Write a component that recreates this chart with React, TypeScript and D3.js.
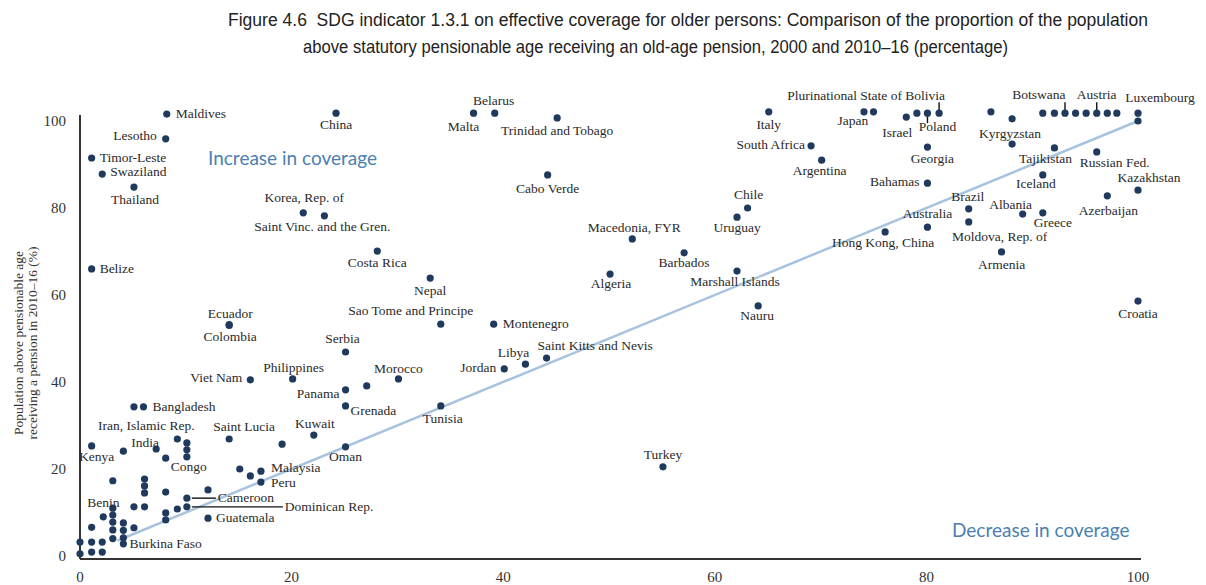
import React from "react";
import * as d3 from "d3";

// Country names ("" = point drawn without a label)
const countries: string[] = [
  "Maldives", "Lesotho", "Timor-Leste", "Swaziland", "Thailand", "Belize",
  "China", "Malta", "Belarus", "Trinidad and Tobago", "Cabo Verde",
  "Korea, Rep. of", "Saint Vinc. and the Gren.", "Costa Rica", "Nepal",
  "Ecuador", "Colombia", "Sao Tome and Principe", "Montenegro", "Serbia",
  "Viet Nam", "Philippines", "Morocco", "", "Panama", "Grenada", "Tunisia",
  "Jordan", "Libya", "Saint Kitts and Nevis",
  "", "Bangladesh", "Iran, Islamic Rep.", "Saint Lucia", "Kuwait", "", "Oman",
  "Kenya", "India", "", "", "", "", "Congo",
  "Malaysia", "Peru", "", "", "Turkey",
  "", "", "", "", "", "", "Cameroon", "Dominican Rep.", "", "", "", "Guatemala",
  "", "", "Benin", "", "", "", "", "", "", "", "", "", "", "Burkina Faso",
  "", "", "", "", "", "",
  "Algeria", "Macedonia, FYR", "Barbados", "Marshall Islands", "Nauru", "Chile",
  "Uruguay", "Italy", "South Africa", "Argentina", "Japan", "", "Israel", "",
  "Poland", "Plurinational State of Bolivia", "Georgia", "Bahamas", "",
  "Kyrgyzstan", "", "Tajikistan", "Russian Fed.", "Iceland", "Kazakhstan",
  "Azerbaijan", "Albania", "Greece", "Brazil", "Moldova, Rep. of", "Australia",
  "Hong Kong, China", "Armenia", "Croatia",
  "", "", "Botswana", "", "", "Austria", "", "", "Luxembourg", "",
];

// Coverage around 2000 (%)
const coverage2000: number[] = [
  8.2, 8.1, 1.1, 2.1, 5.1, 1.1,
  24.2, 37.2, 39.2, 45.1, 44.2,
  21.1, 23.1, 28.1, 33.1,
  14.1, 14.1, 34.1, 39.1, 25.1,
  16.1, 20.1, 30.1, 27.1, 25.1, 25.1, 34.1,
  40.1, 42.1, 44.1,
  5.1, 6.0, 9.2, 14.1, 22.1, 19.1, 25.1,
  1.1, 7.2, 4.1, 8.1, 10.1, 10.1, 10.1,
  17.1, 17.1, 16.1, 15.1, 55.1,
  3.1, 6.1, 6.1, 6.1, 8.1, 12.1, 10.1, 10.1, 9.2, 8.1, 8.1, 12.1,
  5.1, 6.1, 2.2, 3.1, 3.1, 3.1, 3.1, 3.1, 1.1, 4.1, 4.1, 4.1, 5.1, 4.1,
  0, 1.1, 2.1, 0, 1.1, 2.1,
  50.1, 52.2, 57.1, 62.1, 64.1, 63.1,
  62.1, 65.1, 69.1, 70.1, 74.1, 75.0, 78.1, 79.1,
  80.1, 81.2, 80.1, 80.1, 86.1,
  88.1, 88.1, 92.1, 96.1, 91.0, 100,
  97.1, 89.1, 91.0, 84.0, 84.0, 80.1,
  76.1, 87.1, 100,
  91.0, 92.1, 93.1, 94.1, 95.1, 96.1, 97.1, 98.0, 100, 100,
];

// Coverage in 2010–16 (%)
const coverage2016: number[] = [
  101.6, 95.9, 91.5, 87.8, 84.8, 66.0,
  101.8, 101.8, 101.8, 100.7, 87.6,
  78.9, 78.2, 70.1, 63.9,
  53.2, 53.0, 53.3, 53.3, 46.9,
  40.5, 40.7, 40.7, 39.1, 38.2, 34.5, 34.5,
  43.0, 44.1, 45.5,
  34.3, 34.3, 26.9, 26.9, 27.8, 25.7, 25.1,
  25.3, 24.6, 24.1, 22.5, 26.0, 24.4, 22.8,
  19.5, 17.0, 18.4, 20.0, 20.5,
  17.3, 17.7, 16.1, 14.5, 14.7, 15.2, 13.3, 11.3, 10.8, 9.9, 8.3, 8.7,
  11.3, 11.3, 9.0, 11.0, 9.4, 7.8, 6.0, 4.0, 6.6, 7.6, 5.9, 4.2, 6.5, 2.8,
  3.2, 3.2, 3.2, 0.5, 0.9, 0.9,
  64.8, 72.9, 69.7, 65.5, 57.5, 80.0,
  77.9, 102.1, 94.3, 91.0, 102.1, 102.1, 100.9, 101.8,
  101.8, 101.8, 94.0, 85.7, 102.1,
  100.5, 94.7, 93.8, 92.9, 87.6, 84.1,
  82.8, 78.6, 78.9, 79.8, 76.8, 75.6,
  74.5, 69.9, 58.6,
  101.8, 101.8, 101.8, 101.8, 101.8, 101.8, 101.8, 101.8, 101.8, 100.0,
];

const xTicks: number[] = [0, 20, 40, 60, 80, 100];
const yTicks: number[] = [0, 20, 40, 60, 80, 100];

const titleLines: string[] = [
  "Figure 4.6\u00a0\u00a0SDG indicator 1.3.1 on effective coverage for older persons: Comparison of the proportion of the population",
  "above statutory pensionable age receiving an old-age pension, 2000 and 2010–16 (percentage)",
];
const yAxisLines: string[] = [
  "Population above pensionable age",
  "receiving a pension in 2010–16 (%)",
];

type Anchor = "start" | "middle" | "end";
// Label placement relative to each dot: [text-anchor, dx, dy]
const labelPlacement: Record<string, [Anchor, number, number]> = {
  "Maldives": ["start", 9, 4],
  "Lesotho": ["end", -9, 1],
  "Timor-Leste": ["start", 8, 4],
  "Swaziland": ["start", 8, 2],
  "Thailand": ["middle", 1, 17],
  "Belize": ["start", 8, 4],
  "China": ["middle", 0, 16],
  "Malta": ["middle", -10, 18],
  "Belarus": ["middle", -1, -8],
  "Trinidad and Tobago": ["middle", 0, 17],
  "Cabo Verde": ["middle", 0, 18],
  "Korea, Rep. of": ["middle", 1, -11],
  "Saint Vinc. and the Gren.": ["middle", -2, 15],
  "Costa Rica": ["middle", 0, 16],
  "Nepal": ["middle", 0, 17],
  "Ecuador": ["middle", 1, -7],
  "Colombia": ["middle", 1, 16],
  "Sao Tome and Principe": ["middle", -30, -9],
  "Montenegro": ["start", 9, 4],
  "Serbia": ["middle", -3, -9],
  "Viet Nam": ["end", -8, 2],
  "Philippines": ["middle", 1, -7],
  "Morocco": ["middle", 0, -6],
  "Panama": ["end", -6, 8],
  "Grenada": ["start", 5, 9],
  "Tunisia": ["middle", 2, 17],
  "Jordan": ["end", -8, 3],
  "Libya": ["middle", -12, -7],
  "Saint Kitts and Nevis": ["start", -9, -8],
  "Bangladesh": ["start", 9, 4],
  "Iran, Islamic Rep.": ["middle", -31, -9],
  "India": ["middle", -11, -2],
  "Kenya": ["middle", 5, 15],
  "Congo": ["middle", 2, 14],
  "Saint Lucia": ["middle", 15, -8],
  "Kuwait": ["middle", 1, -7],
  "Oman": ["middle", 0, 14],
  "Malaysia": ["start", 10, 1],
  "Peru": ["start", 10, 5],
  "Cameroon": ["start", 31, 4],
  "Dominican Rep.": ["start", 98, 4],
  "Guatemala": ["start", 8, 4],
  "Benin": ["middle", 0, -10],
  "Burkina Faso": ["start", 6, 4],
  "Turkey": ["middle", 0, -8],
  "Algeria": ["middle", 1, 14],
  "Macedonia, FYR": ["middle", 2, -7],
  "Barbados": ["middle", 0, 14],
  "Marshall Islands": ["middle", -2, 15],
  "Nauru": ["middle", -1, 14],
  "Chile": ["middle", 1, -9],
  "Uruguay": ["middle", 0, 15],
  "Italy": ["middle", 0, 17],
  "South Africa": ["end", -6, 3],
  "Argentina": ["middle", -2, 15],
  "Japan": ["middle", -11, 13],
  "Israel": ["middle", -9, 20],
  "Poland": ["middle", 10, 18],
  "Plurinational State of Bolivia": ["end", 6, -13],
  "Georgia": ["middle", 5, 16],
  "Bahamas": ["end", -8, 3],
  "Kyrgyzstan": ["middle", -2, 19],
  "Tajikistan": ["middle", -9, 15],
  "Russian Fed.": ["middle", 18, 15],
  "Iceland": ["middle", -7, 13],
  "Kazakhstan": ["middle", 11, -8],
  "Azerbaijan": ["middle", 1, 19],
  "Albania": ["middle", -12, -5],
  "Greece": ["middle", 10, 14],
  "Brazil": ["middle", -1, -8],
  "Moldova, Rep. of": ["middle", 31, 19],
  "Australia": ["middle", 0, -9],
  "Hong Kong, China": ["middle", -2, 15],
  "Armenia": ["middle", 0, 17],
  "Croatia": ["middle", 0, 17],
  "Botswana": ["middle", -26, -14],
  "Austria": ["middle", 0, -14],
  "Luxembourg": ["middle", 22, -11],
};

// Leader lines from a dot towards its label: [x1, y1, x2, y2] relative to the dot
const leaderLines: Record<string, [number, number, number, number]> = {
  "Cameroon": [5, 0, 29, 0],
  "Dominican Rep.": [5, 0, 96, 0],
  "Poland": [0, 3, 0, 10],
  "Plurinational State of Bolivia": [0, -3, 0, -11],
  "Botswana": [0, -3, 0, -11],
  "Austria": [0, -3, 0, -11],
};

const WIDTH = 1206;
const HEIGHT = 585;
const SERIF = "'Liberation Serif', 'DejaVu Serif', serif";
const SANS = "Lato, 'Open Sans', sans-serif";
const NARROW = "'Liberation Sans Narrow', 'Liberation Sans', Arial, sans-serif";

export default function App() {
  const x = d3.scaleLinear().domain([0, 100]).range([80, 1138]);
  const y = d3.scaleLinear().domain([0, 100]).range([556, 121]);

  const parity = d3.line<number>()
    .x((d) => x(d))
    .y((d) => y(d));

  const points = countries.map((name, i) => ({
    name,
    cx: x(coverage2000[i]),
    cy: y(coverage2016[i]),
  }));

  return (
    <svg
      width={WIDTH}
      height={HEIGHT}
      style={{ position: "absolute", left: 0, top: 0, background: "#fff" }}
    >
      <rect width={WIDTH} height={HEIGHT} fill="#fff" />

      {/* title: condensed by fitting each line to its width, then stretched vertically */}
      <g fontFamily={NARROW} fontSize={16} fill="#222">
        <g transform="translate(228,26) scale(1,1.18)">
          <text x={0} y={0} textLength={920} lengthAdjust="spacingAndGlyphs">{titleLines[0]}</text>
        </g>
        <g transform="translate(303,53) scale(1,1.18)">
          <text x={0} y={0} textLength={705} lengthAdjust="spacingAndGlyphs">{titleLines[1]}</text>
        </g>
      </g>

      {/* y = x reference line */}
      <path
        d={parity([3.5, 100]) || ""}
        stroke="#a8c3dd"
        strokeWidth={2.5}
        fill="none"
      />

      {/* axes */}
      <line x1={x(0)} x2={x(0)} y1={115} y2={559} stroke="#333" strokeWidth={2} />
      <line x1={x(0)} x2={x(100) + 3} y1={559} y2={559} stroke="#333" strokeWidth={2} />

      <g fontFamily={SERIF} fontSize={15} fill="#333">
        {yTicks.map((t) => (
          <text key={"y" + t} x={66} y={y(t) + 5} textAnchor="end">{t}</text>
        ))}
        {xTicks.map((t) => (
          <text key={"x" + t} x={x(t)} y={582} textAnchor="middle">{t}</text>
        ))}
      </g>

      <g transform="translate(0,343) rotate(-90)" fontFamily={SERIF} fontSize={13.5} fill="#333">
        <text x={0} y={23} textAnchor="middle">{yAxisLines[0]}</text>
        <text x={0} y={37} textAnchor="middle">{yAxisLines[1]}</text>
      </g>

      {/* region notes */}
      <g fontFamily={SANS} fontSize={19} fill="#4c80b1">
        <text x={208} y={165}>Increase in coverage</text>
        <text x={952} y={537}>Decrease in coverage</text>
      </g>

      {/* leader lines */}
      <g stroke="#111" strokeWidth={1.4}>
        {points.filter((p) => leaderLines[p.name]).map((p) => {
          const [a, b, c, d] = leaderLines[p.name];
          return (
            <line key={"l" + p.name} x1={p.cx + a} y1={p.cy + b} x2={p.cx + c} y2={p.cy + d} />
          );
        })}
      </g>

      {/* points */}
      <g fill="#1f3a5c">
        {points.map((p, i) => (
          <circle key={"c" + i} cx={p.cx} cy={p.cy} r={3.6} />
        ))}
      </g>

      {/* country labels */}
      <g fontFamily={SERIF} fontSize={13.5} fill="#2a2a2a">
        {points.filter((p) => p.name && labelPlacement[p.name]).map((p) => {
          const [anchor, dx, dy] = labelPlacement[p.name];
          return (
            <text key={"t" + p.name} x={p.cx + dx} y={p.cy + dy} textAnchor={anchor}>
              {p.name}
            </text>
          );
        })}
      </g>
    </svg>
  );
}
